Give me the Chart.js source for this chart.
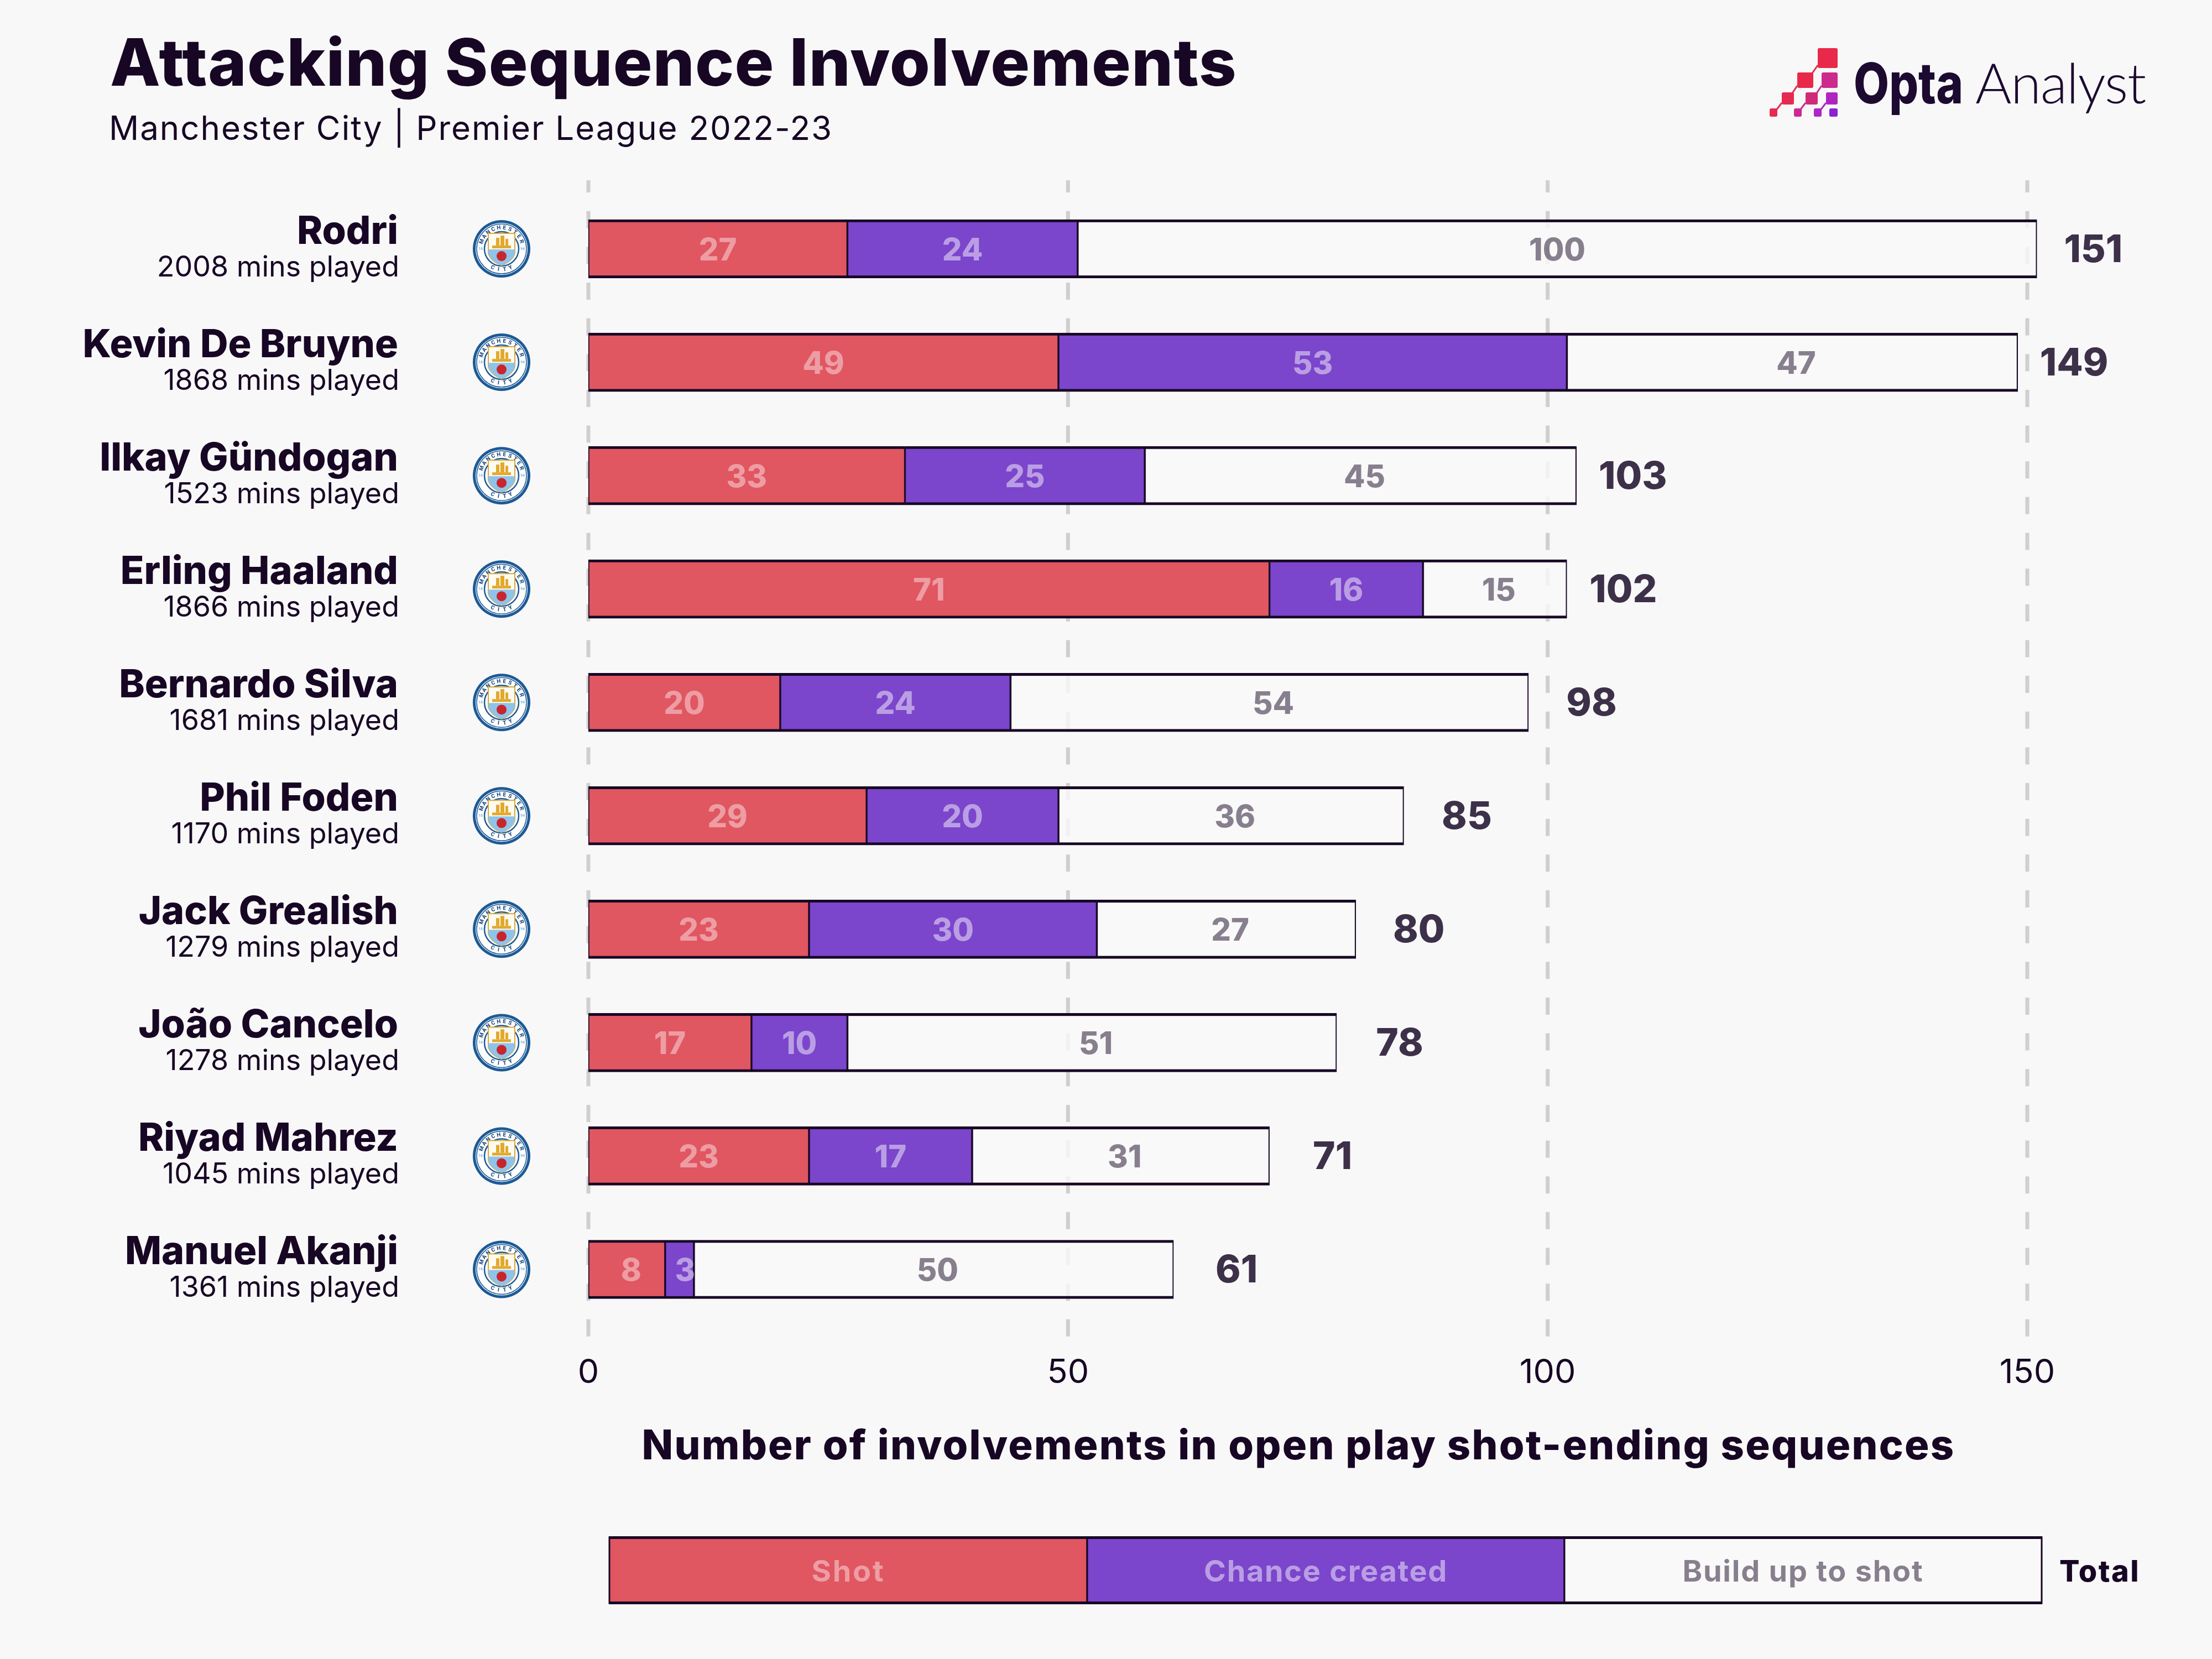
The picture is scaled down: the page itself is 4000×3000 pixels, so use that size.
<!DOCTYPE html>
<html>
<head>
<meta charset="utf-8">
<title>Attacking Sequence Involvements</title>
<script src="https://cdn.jsdelivr.net/npm/chart.js@4"></script>
<style>
  html, body { margin: 0; padding: 0; background: #f8f8f8; }
  canvas { display: block; }
</style>
</head>
<body>
<canvas id="chart" width="4000" height="3000"></canvas>
<script>
const players = ["Rodri", "Kevin De Bruyne", "Ilkay Gündogan", "Erling Haaland", "Bernardo Silva", "Phil Foden", "Jack Grealish", "João Cancelo", "Riyad Mahrez", "Manuel Akanji"];
const minutes = [2008, 1868, 1523, 1866, 1681, 1170, 1279, 1278, 1045, 1361];
const shots = [27, 49, 33, 71, 20, 29, 23, 17, 23, 8];
const chances = [24, 53, 25, 16, 24, 20, 30, 10, 17, 3];
const buildUp = [100, 47, 45, 15, 54, 36, 27, 51, 31, 50];
const totals = [151, 149, 103, 102, 98, 85, 80, 78, 71, 61];
const xTicks = [0, 50, 100, 150];
const seriesNames = ["Shot", "Chance created", "Build up to shot"];

const DARK = "#170624";
const FONT = "Inter, sans-serif";
const RED = "#e05661";
const PURPLE = "#7b45cc";
const labelColors = ["rgba(255,255,255,0.42)", "rgba(255,255,255,0.48)", "rgba(23,6,36,0.5)"];

// width is optional, the letter spacing gets adjusted to hit it
function text(ctx, str, x, y, font, color, align, width) {
  ctx.font = font;
  ctx.fillStyle = color;
  ctx.textAlign = align || "left";
  ctx.textBaseline = "alphabetic";
  ctx.letterSpacing = "0px";
  if (width) {
    ctx.letterSpacing = ((width - ctx.measureText(str).width) / str.length) + "px";
  }
  ctx.fillText(str, x, y);
  ctx.letterSpacing = "0px";
}

function arcText(ctx, str, cx, cy, r, mid, step, bottom) {
  ctx.font = "800 10px Roboto, sans-serif";
  ctx.textAlign = "center";
  ctx.textBaseline = "middle";
  for (let i = 0; i < str.length; i++) {
    let a = mid + (i - (str.length - 1) / 2) * step * (bottom ? -1 : 1);
    ctx.save();
    ctx.translate(cx + Math.cos(a) * r, cy + Math.sin(a) * r);
    ctx.rotate(a + (bottom ? -Math.PI / 2 : Math.PI / 2));
    ctx.fillText(str[i], 0, 0);
    ctx.restore();
  }
}

// club crest, rough version
function crest(ctx, cx, cy) {
  ctx.save();
  ctx.beginPath(); ctx.arc(cx, cy, 52, 0, Math.PI * 2); ctx.fillStyle = "#1c5a96"; ctx.fill();
  ctx.beginPath(); ctx.arc(cx, cy, 47, 0, Math.PI * 2); ctx.fillStyle = "#fff"; ctx.fill();
  ctx.beginPath(); ctx.arc(cx, cy, 45, 0, Math.PI * 2); ctx.strokeStyle = "#1c5a96"; ctx.lineWidth = 1.5; ctx.stroke();
  ctx.beginPath(); ctx.arc(cx, cy, 31, 0, Math.PI * 2); ctx.lineWidth = 2.5; ctx.stroke();
  ctx.fillStyle = "#1c4a80";
  arcText(ctx, "MANCHESTER", cx, cy, 38, -Math.PI / 2, 0.27, false);
  arcText(ctx, "CITY", cx, cy, 38, Math.PI / 2, 0.3, true);
  ctx.fillStyle = "#7db8e4";
  ctx.font = "700 7px Roboto, sans-serif";
  ctx.textAlign = "center";
  ctx.fillText("18", cx - 38, cy);
  ctx.fillText("94", cx + 38, cy);
  // shield
  ctx.beginPath();
  ctx.moveTo(cx - 24, cy - 28);
  ctx.lineTo(cx + 24, cy - 28);
  ctx.lineTo(cx + 24, cy + 8);
  ctx.quadraticCurveTo(cx + 20, cy + 22, cx, cy + 30);
  ctx.quadraticCurveTo(cx - 20, cy + 22, cx - 24, cy + 8);
  ctx.closePath();
  ctx.fillStyle = "#fdfaf0"; ctx.fill();
  ctx.strokeStyle = "#d9a83a"; ctx.lineWidth = 2; ctx.stroke();
  ctx.save();
  ctx.clip();
  ctx.fillStyle = "#8fc3ea";
  ctx.fillRect(cx - 24, cy + 1, 48, 30);
  ctx.restore();
  // ship
  ctx.fillStyle = "#e2a92e";
  ctx.fillRect(cx - 17, cy - 6, 34, 5);
  ctx.fillRect(cx - 10, cy - 20, 6, 14);
  ctx.fillRect(cx - 2, cy - 24, 7, 18);
  ctx.fillRect(cx + 7, cy - 18, 5, 12);
  // rose
  ctx.fillStyle = "#c8252c";
  ctx.beginPath(); ctx.arc(cx, cy + 13, 9, 0, Math.PI * 2); ctx.fill();
  ctx.restore();
}

function optaLogo(ctx) {
  const squares = [
    [3287, 87, 36, 36, "#e8294a"],
    [3250, 131, 29, 28, "#e8294a"], [3294, 131, 29, 28, "#cc2a8c"],
    [3222, 167, 22, 22, "#e52b50"], [3265, 167, 22, 22, "#cf2b78"], [3302, 167, 21, 22, "#b024c0"],
    [3200, 196, 14, 15, "#e52b50"], [3244, 196, 14, 15, "#cc2a90"], [3280, 196, 14, 15, "#ae26c4"], [3308, 196, 15, 15, "#8a22d0"]
  ];
  squares.forEach(s => {
    ctx.fillStyle = s[4];
    ctx.beginPath();
    ctx.roundRect(s[0], s[1], s[2], s[3], 3);
    ctx.fill();
  });
  // thin links between the squares
  const links = [[3287, 118, 3276, 134, "#e8294a"], [3250, 155, 3240, 170, "#e8294a"], [3294, 155, 3284, 170, "#cc2a8c"],
    [3222, 186, 3212, 199, "#e52b50"], [3265, 186, 3255, 199, "#cc2a90"], [3302, 186, 3292, 199, "#ae26c4"]];
  ctx.lineWidth = 3;
  links.forEach(l => {
    ctx.strokeStyle = l[4];
    ctx.beginPath();
    ctx.moveTo(l[0], l[1]);
    ctx.lineTo(l[2], l[3]);
    ctx.stroke();
  });
  // Opta squeezed to the logo width
  ctx.save();
  ctx.font = "800 102px Inter, sans-serif";
  ctx.translate(3352, 187);
  ctx.scale(198 / ctx.measureText("Opta").width, 1);
  text(ctx, "Opta", 0, 0, "800 102px Inter, sans-serif", "#1c0a30");
  ctx.restore();
  text(ctx, "Analyst", 3572, 187, "300 100px Lato, sans-serif", "#1c0a30", "left", 308);
}

const decorPlugin = {
  id: "decor",
  beforeDatasetsDraw(chart) {
    const ctx = chart.ctx;
    const x = chart.scales.x;
    ctx.save();
    ctx.strokeStyle = "#cfcfcf";
    ctx.lineWidth = 7;
    ctx.setLineDash([31, 33.65]);
    ctx.lineDashOffset = 9;
    xTicks.forEach(v => {
      ctx.beginPath();
      ctx.moveTo(x.getPixelForValue(v), 326);
      ctx.lineTo(x.getPixelForValue(v), 2417);
      ctx.stroke();
    });
    ctx.restore();
  },
  afterDatasetsDraw(chart) {
    const ctx = chart.ctx;
    const y = chart.scales.y;
    const x = chart.scales.x;
    ctx.save();
    // labels inside the segments
    chart.data.datasets.forEach((ds, i) => {
      chart.getDatasetMeta(i).data.forEach((el, j) => {
        ctx.font = "800 56px " + FONT;
        ctx.fillStyle = labelColors[i];
        ctx.textAlign = "center";
        ctx.textBaseline = "middle";
        let off = 0;
        if (i == 0 && ds.data[j] < 10) off = 8;
        if (i == 1 && ds.data[j] < 5) off = 10;
        if (i == 2 && ds.data[j] < 100) off = 7;
        ctx.fillText(ds.data[j], (el.x + el.base) / 2 + off, el.y + 4);
      });
    });
    players.forEach((name, i) => {
      const cy = y.getPixelForValue(i);
      text(ctx, name, 720, cy - 9, "800 70px " + FONT, DARK, "right");
      text(ctx, minutes[i] + " mins played", 722, cy + 50, "400 52px " + FONT, DARK, "right");
      crest(ctx, 907, cy);
      ctx.font = "800 69px " + FONT;
      ctx.fillStyle = "#3d3049";
      ctx.textAlign = "center";
      ctx.textBaseline = "alphabetic";
      ctx.fillText(totals[i], x.getPixelForValue(totals[i]) + (totals[i] < 100 ? 114 : 102), cy + 24);
    });
    // header
    text(ctx, "Attacking Sequence Involvements", 199, 155, "800 118px " + FONT, DARK, "left", 2038);
    text(ctx, "Manchester City | Premier League 2022-23", 197, 253, "400 60px " + FONT, DARK, "left", 1309);
    optaLogo(ctx);
    // axis title
    text(ctx, "Number of involvements in open play shot-ending sequences", 2348, 2639, "800 74px " + FONT, DARK, "center", 2375);
    // legend
    const edges = [1102, 1966, 2829, 3692];
    const fills = [RED, PURPLE, "#f9f9f9"];
    const legendWidths = [133, 441, 436];
    seriesNames.forEach((name, i) => {
      ctx.fillStyle = fills[i];
      ctx.fillRect(edges[i], 2780, edges[i + 1] - edges[i], 119);
      ctx.strokeStyle = DARK;
      ctx.lineWidth = 3;
      ctx.strokeRect(edges[i], 2780, edges[i + 1] - edges[i], 119);
      text(ctx, name, (edges[i] + edges[i + 1]) / 2, 2860, "700 54px " + FONT, labelColors[i], "center", legendWidths[i]);
    });
    ctx.fillStyle = DARK;
    ctx.fillRect(edges[0] - 1, 2778, edges[3] - edges[0] + 2, 5);
    ctx.fillRect(edges[0] - 1, 2896, edges[3] - edges[0] + 2, 5);
    text(ctx, "Total", 3724, 2860, "800 54px " + FONT, DARK, "left", 146);
    ctx.restore();
  }
};

const segmentBorder = { top: 5, bottom: 5, left: 2, right: 2 };

function series(label, data, color) {
  return {
    label: label,
    data: data,
    backgroundColor: color,
    borderColor: DARK,
    borderWidth: segmentBorder,
    borderSkipped: false,
    barThickness: 106,
    clip: false
  };
}

new Chart(document.getElementById("chart"), {
  type: "bar",
  data: {
    labels: players,
    datasets: [
      series(seriesNames[0], shots, RED),
      series(seriesNames[1], chances, PURPLE),
      series(seriesNames[2], buildUp, "rgba(249,249,249,0.8)")
    ]
  },
  options: {
    indexAxis: "y",
    responsive: false,
    animation: false,
    devicePixelRatio: 1,
    layout: { padding: { left: 1064, right: 334, top: 347.5, bottom: 452 } },
    plugins: { legend: { display: false }, tooltip: { enabled: false } },
    scales: {
      x: {
        stacked: true,
        min: 0,
        max: 150,
        afterBuildTicks: s => { s.ticks = xTicks.map(v => ({ value: v })); },
        afterFit: s => { s.height = 150; },
        grid: { display: false },
        border: { display: false },
        ticks: {
          autoSkip: false,
          maxRotation: 0,
          padding: 40,
          color: DARK,
          font: { family: "Inter", size: 61, weight: "400" }
        }
      },
      y: { stacked: true, display: false }
    }
  },
  plugins: [decorPlugin]
});
</script>
</body>
</html>
